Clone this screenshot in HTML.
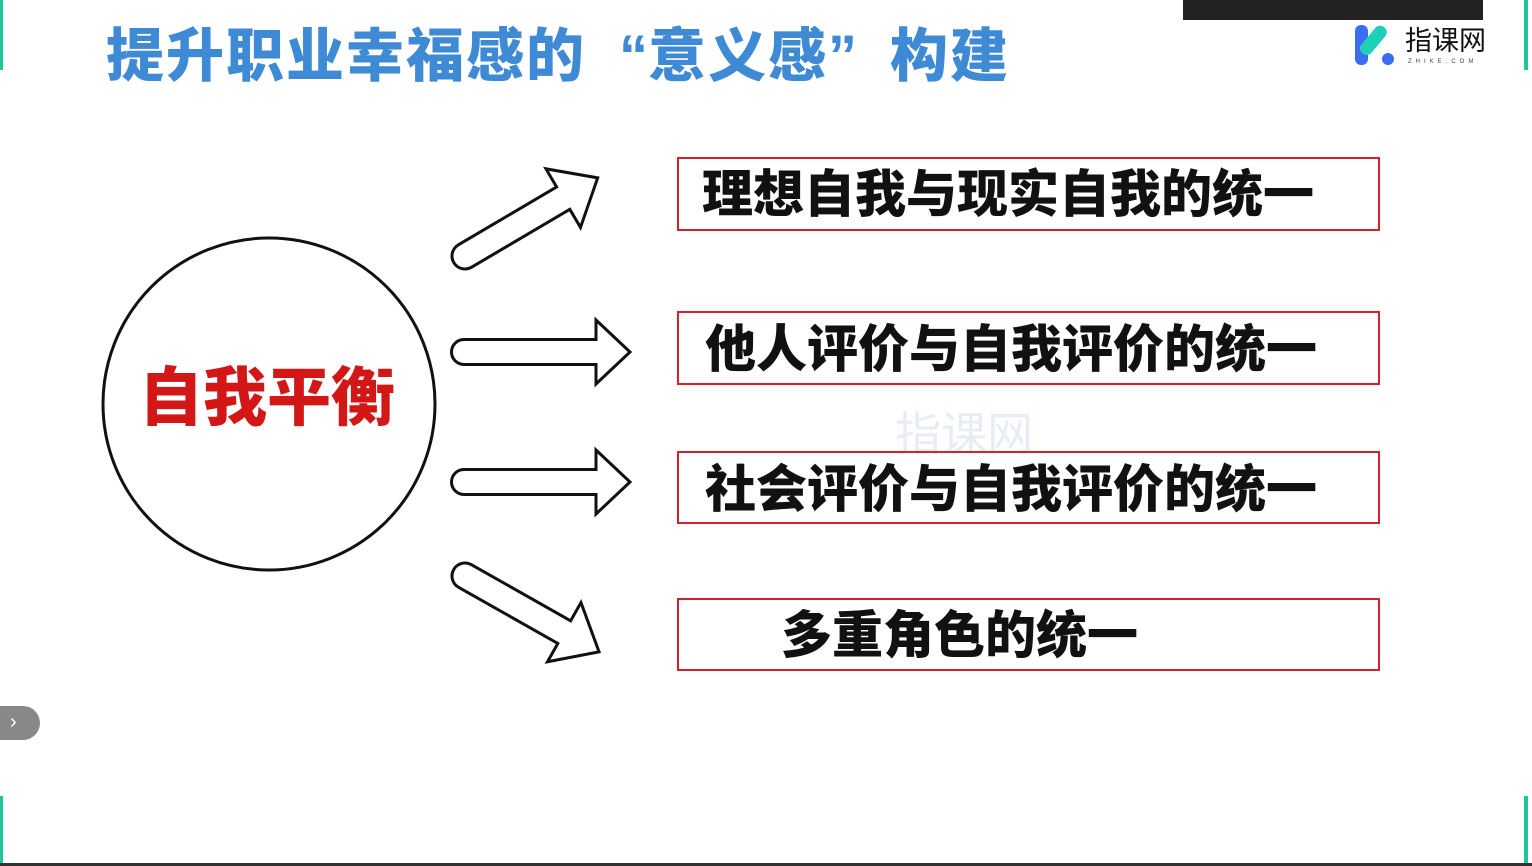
<!DOCTYPE html>
<html><head><meta charset="utf-8"><style>
body{margin:0;width:1532px;height:866px;background:#fff;position:relative;overflow:hidden;font-family:"Liberation Sans","Noto Sans CJK SC",sans-serif}
.t{position:absolute;left:106px;top:22px;font-size:58px;font-weight:900;color:#3f8ad4;letter-spacing:2px;white-space:nowrap;line-height:70px}
.q{display:inline-block;width:62px;letter-spacing:0}
.box{position:absolute;left:677px;width:703px;border:2px solid #d3222a;box-sizing:border-box;}
.bt{position:absolute;font-weight:900;color:#111;white-space:nowrap;line-height:1}
.g{position:absolute;background:#1fc59a;width:3px}
</style></head><body>
<div class="g" style="left:0;top:0;height:70px"></div>
<div class="g" style="left:0;top:796px;height:70px"></div>
<div class="g" style="left:1524px;top:0;height:70px;width:4px"></div>
<div class="g" style="left:1524px;top:796px;height:70px;width:4px"></div>
<div style="position:absolute;left:1183px;top:0;width:300px;height:20px;background:#222"></div>
<div class="t">提升职业幸福感的<span class="q" style="text-align:right">“</span>意义感<span class="q" style="text-align:left">”</span>构建</div>
<svg style="position:absolute;left:0;top:0" width="1532" height="866">
<circle cx="269" cy="404" r="166" fill="#fff" stroke="#111" stroke-width="3"/>
<g fill="#fff" stroke="#111" stroke-width="3" stroke-linejoin="miter">
<path transform="translate(464,352)" d="M0,-12.5 L132,-12.5 L132,-32 L166,0 L132,32 L132,12.5 L0,12.5 A12.5,12.5 0 0 1 0,-12.5Z"/>
<path transform="translate(464,482)" d="M0,-12.5 L132,-12.5 L132,-32 L166,0 L132,32 L132,12.5 L0,12.5 A12.5,12.5 0 0 1 0,-12.5Z"/>
<path transform="translate(465,256) rotate(-30.5)" d="M0,-13 L114,-13 L114,-34 L154,0 L114,34 L114,13 L0,13 A13,13 0 0 1 0,-13Z"/>
<path transform="translate(465,576) rotate(29.5)" d="M0,-13 L114,-13 L114,-34 L154,0 L114,34 L114,13 L0,13 A13,13 0 0 1 0,-13Z"/>
</g>
<g transform="translate(1355,25)">
<rect x="0" y="0" width="13" height="40" rx="6" fill="#3a6df0"/>
<rect x="12" y="-2" width="13" height="34" rx="6" fill="#1fd0b8" transform="rotate(40 18 15)"/>
<circle cx="33" cy="34" r="6" fill="#3a6df0"/>
</g>
<text x="1405" y="50" font-size="27" fill="#111" font-family="Noto Sans CJK SC,sans-serif">指课网</text>
<text x="1408" y="63" font-size="6" fill="#444" letter-spacing="4">ZHIKE.COM</text>
<text x="895" y="450" font-size="46" fill="#e8ecf4" font-family="Noto Sans CJK SC,sans-serif">指课网</text>
</svg>
<div class="bt" style="left:139px;top:366px;font-size:64px;color:#d31616">自我平衡</div>
<div class="box" style="top:157px;height:74px"></div>
<div class="bt" style="left:702px;top:169px;font-size:51px">理想自我与现实自我的统一</div>
<div class="box" style="top:311px;height:74px"></div>
<div class="bt" style="left:705px;top:324px;font-size:51px">他人评价与自我评价的统一</div>
<div class="box" style="top:451px;height:73px"></div>
<div class="bt" style="left:705px;top:464px;font-size:51px">社会评价与自我评价的统一</div>
<div class="box" style="top:598px;height:73px"></div>
<div class="bt" style="left:781px;top:610px;font-size:51px">多重角色的统一</div>
<div style="position:absolute;left:0;top:706px;width:40px;height:34px;background:#888;border-radius:0 17px 17px 0;color:#fff;font-size:20px;line-height:32px;text-indent:10px">›</div>
<div style="position:absolute;left:0;top:863px;width:1532px;height:3px;background:#333"></div>
</body></html>
